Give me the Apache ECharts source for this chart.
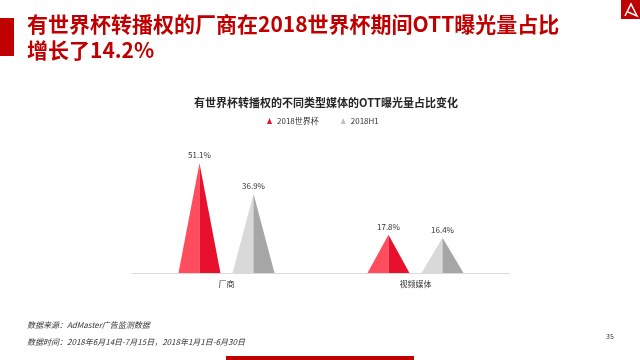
<!DOCTYPE html>
<html>
<head>
<meta charset="utf-8">
<script src="https://cdn.jsdelivr.net/npm/echarts@6/dist/echarts.min.js"></script>
<style>html,body{margin:0;padding:0;background:#fff}#c{width:640px;height:360px}</style>
</head>
<body>
<div id="c"></div>
<script>
const categories = ['厂商', '视频媒体'];
const seriesNames = ['2018世界杯', '2018H1'];
const worldCup = [51.1, 17.8];
const h1 = [36.9, 16.4];

const FONT = '"Noto Sans CJK SC", "Noto Sans", sans-serif';
const palettes = [
  { light: '#ff4d5e', dark: '#e8112d' },
  { light: '#d9d9d9', dark: '#a6a6a6' }
];

function makeRender(si) {
  return function (params, api) {
    const idx = api.value(0);
    const v = api.value(1);
    const top = api.coord([idx, v]);
    const base = api.coord([idx, 0]);
    const bw = api.size([1, 0])[0];
    const cx = top[0] + (si === 0 ? -1 : 1) * 0.143 * bw;
    const hw = 0.111 * bw;
    const p = palettes[si];
    return {
      type: 'group',
      children: [
        { type: 'polygon', shape: { points: [[cx - hw, base[1]], [cx, top[1]], [cx, base[1]]] }, style: { fill: p.light } },
        { type: 'polygon', shape: { points: [[cx, base[1]], [cx, top[1]], [cx + hw, base[1]]] }, style: { fill: p.dark } },
        { type: 'text', style: { text: v.toFixed(1) + '%', x: cx, y: top[1] - 4, align: 'center', verticalAlign: 'bottom', fontSize: 8, fill: '#333', fontFamily: FONT } }
      ]
    };
  };
}

const chart = echarts.init(document.getElementById('c'));
chart.setOption({
  animation: false,
  textStyle: { fontFamily: FONT },
  title: {
    text: '有世界杯转播权的不同类型媒体的OTT曝光量占比变化',
    left: 321, textAlign: 'center', top: 92,
    textStyle: { fontSize: 11, fontWeight: 'bold', color: '#262626', fontFamily: FONT }
  },
  legend: {
    data: [{ name: seriesNames[0], icon: 'triangle' }, { name: seriesNames[1], icon: 'triangle' }],
    top: 112, left: 262,
    itemWidth: 5, itemHeight: 6, itemGap: 22,
    textStyle: { fontSize: 8, color: '#333', fontFamily: FONT }
  },
  grid: { left: 132, right: 130, top: 144, bottom: 87 },
  xAxis: {
    type: 'category', data: categories,
    axisLine: { lineStyle: { color: '#d9d9d9' } },
    axisTick: { show: false },
    axisLabel: { fontSize: 8, color: '#333', margin: 7, fontFamily: FONT }
  },
  yAxis: { type: 'value', min: 0, max: 60, show: false },
  series: [
    { type: 'custom', name: seriesNames[0], itemStyle: { color: '#e8112d' }, renderItem: makeRender(0), data: worldCup.map((v, i) => [i, v]) },
    { type: 'custom', name: seriesNames[1], itemStyle: { color: '#bfbfbf' }, renderItem: makeRender(1), data: h1.map((v, i) => [i, v]) }
  ],
  graphic: [
    { type: 'rect', left: 0, top: 18, shape: { width: 14, height: 38 }, style: { fill: '#c00000' } },
    { type: 'text', left: 27, top: 14, style: { text: '有世界杯转播权的厂商在2018世界杯期间OTT曝光量占比', fontSize: 21, fontWeight: 'bold', fill: '#c00000', fontFamily: FONT } },
    { type: 'text', left: 27, top: 40, style: { text: '增长了14.2%', fontSize: 21, fontWeight: 'bold', fill: '#c00000', fontFamily: FONT } },
    { type: 'rect', left: 621, top: 0, shape: { width: 19, height: 19 }, style: { fill: '#c00000' } },
    { type: 'polyline', shape: { points: [[625, 16], [631, 4], [637, 16], [628, 12]] }, style: { stroke: '#fff', lineWidth: 1.5, fill: null } },
    { type: 'text', left: 27, top: 321, style: { text: '数据来源：AdMaster广告监测数据', fontSize: 8, fontStyle: 'italic', fill: '#333', fontFamily: FONT } },
    { type: 'text', left: 27, top: 338, style: { text: '数据时间：2018年6月14日-7月15日，2018年1月1日-6月30日', fontSize: 8, fontStyle: 'italic', fill: '#333', fontFamily: FONT } },
    { type: 'text', left: 606, top: 333, style: { text: '35', fontSize: 7, fill: '#333', fontFamily: FONT } },
    { type: 'rect', left: 226, top: 356, shape: { width: 188, height: 4 }, style: { fill: '#c00000' } }
  ]
});
</script>
</body>
</html>
